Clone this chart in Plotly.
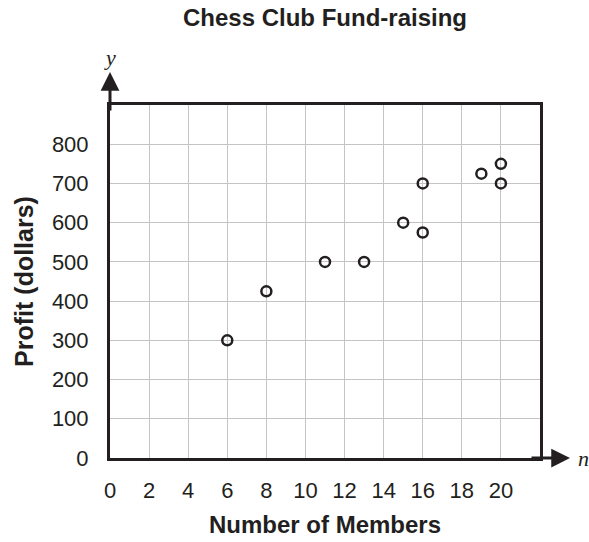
import plotly.graph_objects as go

# Data
members = [6, 8, 11, 13, 15, 16, 16, 19, 20, 20]
profit = [300, 425, 500, 500, 600, 575, 700, 725, 750, 700]

x_ticks = [0, 2, 4, 6, 8, 10, 12, 14, 16, 18, 20]
y_ticks = [0, 100, 200, 300, 400, 500, 600, 700, 800]

INK = "#231f20"
FONT = "Liberation Sans, Arial, Helvetica, sans-serif"

fig = go.Figure()
fig.add_trace(go.Scatter(
    x=members, y=profit, mode="markers",
    marker=dict(symbol="circle-open", size=10, color=INK, line=dict(width=2.5, color=INK)),
    showlegend=False, hoverinfo="x+y",
))

PLOT_W = 589 - 110 - 49
PLOT_H = 542 - 105 - 84

fig.update_layout(
    width=589, height=542, autosize=False,
    margin=dict(l=110, r=49, t=105, b=84, autoexpand=False),
    paper_bgcolor="white", plot_bgcolor="white",
    font=dict(family=FONT, color=INK),
    title=dict(text="Chess Club Fund-raising", x=0.5, xref="paper", xanchor="center",
               y=1 - 18 / 542, yref="container", yanchor="middle",
               font=dict(size=24, weight="bold", color=INK, family=FONT)),
    xaxis=dict(range=[0, 22], tickvals=x_ticks, ticktext=[str(v) for v in x_ticks],
               showgrid=True, gridcolor="#c4c4c4", gridwidth=1,
               showline=True, linecolor=INK, linewidth=3, mirror=True,
               zeroline=False, ticks="", ticklabelstandoff=11, automargin=False,
               tickfont=dict(size=22, color=INK),
               title=dict(text="Number of Members", standoff=14,
                          font=dict(size=24, weight="bold", color=INK))),
    yaxis=dict(range=[0, 900], tickvals=y_ticks, ticktext=[str(v) for v in y_ticks],
               showgrid=True, gridcolor="#c4c4c4", gridwidth=1,
               showline=True, linecolor=INK, linewidth=3, mirror=True,
               zeroline=False, ticks="", ticklabelstandoff=14, automargin=False,
               tickfont=dict(size=22, color=INK),
               title=dict(text="Profit (dollars)", standoff=12,
                          font=dict(size=25, weight="bold", color=INK))),
)

# Axis arrows and variable labels
fig.add_annotation(x=0, y=1 + 33 / PLOT_H, xref="paper", yref="paper",
                   ax=0, ay=40, showarrow=True, arrowhead=2, arrowsize=1.25,
                   arrowwidth=3, arrowcolor=INK, text="")
fig.add_annotation(x=1 + 30 / PLOT_W, y=0, xref="paper", yref="paper",
                   ax=-40, ay=0, showarrow=True, arrowhead=2, arrowsize=1.25,
                   arrowwidth=3, arrowcolor=INK, text="")
fig.add_annotation(x=0, y=1 + 47 / PLOT_H, xref="paper", yref="paper",
                   text="<i>y</i>", showarrow=False, xanchor="center", yanchor="middle",
                   font=dict(family="Liberation Serif, Times New Roman, serif", size=22, color=INK))
fig.add_annotation(x=1 + 36 / PLOT_W, y=0, xref="paper", yref="paper",
                   text="<i>n</i>", showarrow=False, xanchor="left", yanchor="middle",
                   font=dict(family="Liberation Serif, Times New Roman, serif", size=22, color=INK))

fig.write_html("out.html", config={"displayModeBar": False},
               post_script="document.body.style.margin='0';")
